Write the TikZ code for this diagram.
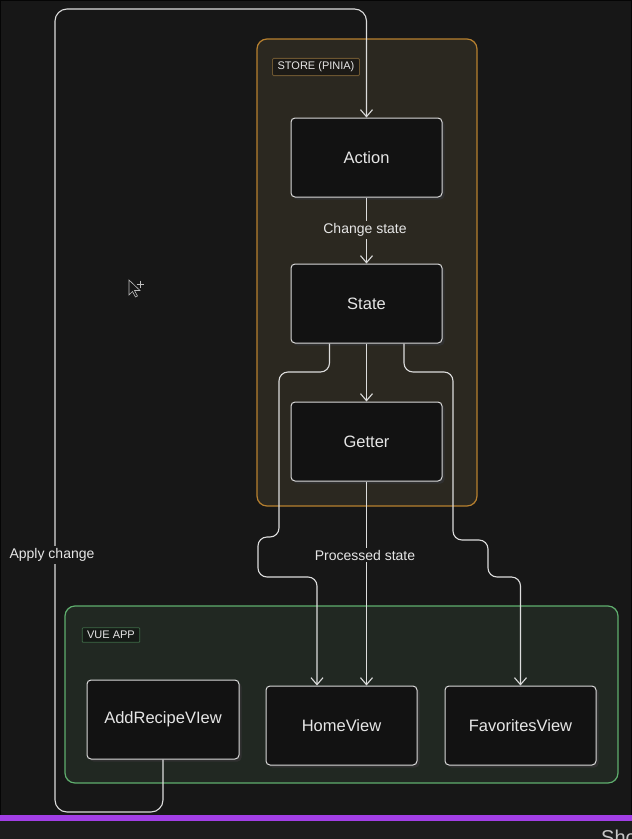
\documentclass[tikz,border=0pt]{standalone}
\usepackage{fontspec}
\setmainfont{Liberation Sans}
\usetikzlibrary{arrows.meta,calc,shadows}
\definecolor{bg}{HTML}{171717}
\definecolor{storefill}{HTML}{2B2820}
\definecolor{storeborder}{HTML}{B7802F}
\definecolor{storelblborder}{HTML}{6B5530}
\definecolor{storelblfill}{HTML}{1C1A16}
\definecolor{vuefill}{HTML}{212822}
\definecolor{vueborder}{HTML}{5FAE6E}
\definecolor{vuelblborder}{HTML}{3F6B48}
\definecolor{vuelblfill}{HTML}{151A16}
\definecolor{nodefill}{HTML}{121212}
\definecolor{nodeborder}{HTML}{D9D9D9}
\definecolor{shadowc}{HTML}{303030}
\definecolor{txt}{HTML}{E6E6E6}
\definecolor{linec}{HTML}{DCDCDC}
\definecolor{barc}{HTML}{A23FE6}
\definecolor{bottomc}{HTML}{1D1D1D}
\begin{document}
\begin{tikzpicture}[x=1pt,y=-1pt,
  box/.style={draw=nodeborder, fill=nodefill, rounded corners=4pt, line width=1pt,
    minimum width=151pt, minimum height=79pt, inner sep=0pt, text=txt,
    font=\fontsize{16.5}{19}\selectfont,
    drop shadow={shadow xshift=2.5pt, shadow yshift=-2.5pt, fill=shadowc, opacity=1}},
  container/.style={rounded corners=10pt, line width=1.2pt, inner sep=0pt},
  grouplbl/.style={line width=0.8pt, rounded corners=1pt, text=txt, inner xsep=5pt, inner ysep=3.5pt,
    font=\fontsize{11}{12}\selectfont},
  conn/.style={draw=linec, line width=1.1pt, rounded corners=9pt,
    -{Straight Barb[length=7pt,width=12pt,line width=1.1pt]}},
  lbl/.style={text=txt, font=\fontsize{14}{16}\selectfont, inner sep=2pt}
]
\useasboundingbox (0,0) rectangle (632,839);
\fill[bg] (0,0) rectangle (632,839);
\draw[black!80!bg, line width=1.5pt] (0,0) rectangle (632,839);

% containers
\node[container, draw=storeborder, fill=storefill, minimum width=220pt, minimum height=467pt] (store) at (367,272.5) {};
\node[container, draw=vueborder, fill=vuefill, minimum width=553pt, minimum height=177pt] (vue) at (341.5,694.5) {};
\node[grouplbl, draw=storelblborder, fill=storelblfill] (storelbl) at (316,67) {STORE (PINIA)};
\node[grouplbl, draw=vuelblborder, fill=vuelblfill] (vuelbl) at (111,635) {VUE APP};

% nodes
\node[box] (action) at (366.5,157.5) {Action};
\node[box] (state) at (366.5,303.5) {State};
\node[box] (getter) at (366.5,441.5) {Getter};
\node[box, minimum width=152pt] (add) at (163,719.5) {AddRecipeVIew};
\node[box] (home) at (341.5,725.5) {HomeView};
\node[box] (fav) at (520.5,725.5) {FavoritesView};

% connectors
\coordinate (homeL) at ($(home.north)+(-24.5,0)$);
\coordinate (homeR) at ($(home.north)+(25.5,0)$);
\coordinate (stateL) at ($(state.south)+(-37,0)$);
\coordinate (stateR) at ($(state.south)+(37.5,0)$);

\draw[conn, rounded corners=12pt] (add.south) -- (add.south |- 0,812) -- (55,812) -- (55,9)
   -- (action.north |- 0,9) -- (action.north);
\draw[conn] (action.south) -- (state.north);
\draw[conn] (state.south) -- (getter.north);
\draw[conn] (getter.south) -- (getter.south |- homeR) ;
\draw[conn] (stateL) -- (stateL |- 0,372) -- (279,372) -- (279,537) -- (258,537)
   -- (258,577) -- (homeL |- 0,577) -- (homeL);
\draw[conn] (stateR) -- (stateR |- 0,372) -- (453,372) -- (453,540) -- (488,540)
   -- (488,577) -- (fav.north |- 0,577) -- (fav.north);

% edge labels
\node[lbl, fill=storefill] (lchange) at (365,230) {Change state};
\node[lbl, fill=bg] (lproc) at (365,555) {Processed state};
\node[lbl, fill=bg] (lapply) at (52,555) {Apply change};

% cursor
\draw[draw=linec!85!bg, fill=bg, line width=0.6pt]
  (129,280) -- (129,295) -- (132.5,291.5) -- (135.5,297) -- (137.5,296) -- (134.5,290.5) -- (140,290.5) -- cycle;
\draw[draw=linec!85!bg, line width=0.6pt] (140,280.5) -- (140,287.5) (136.5,284) -- (143.5,284);

% bottom bar
\fill[barc] (0,815) rectangle (632,821);
\fill[bottomc] (0,821) rectangle (632,839);
\node[anchor=base west, text=txt!85!bg, font=\fontsize{20}{22}\selectfont, inner sep=0pt] (sho) at (601,844) {Sho};
\end{tikzpicture}
\end{document}
